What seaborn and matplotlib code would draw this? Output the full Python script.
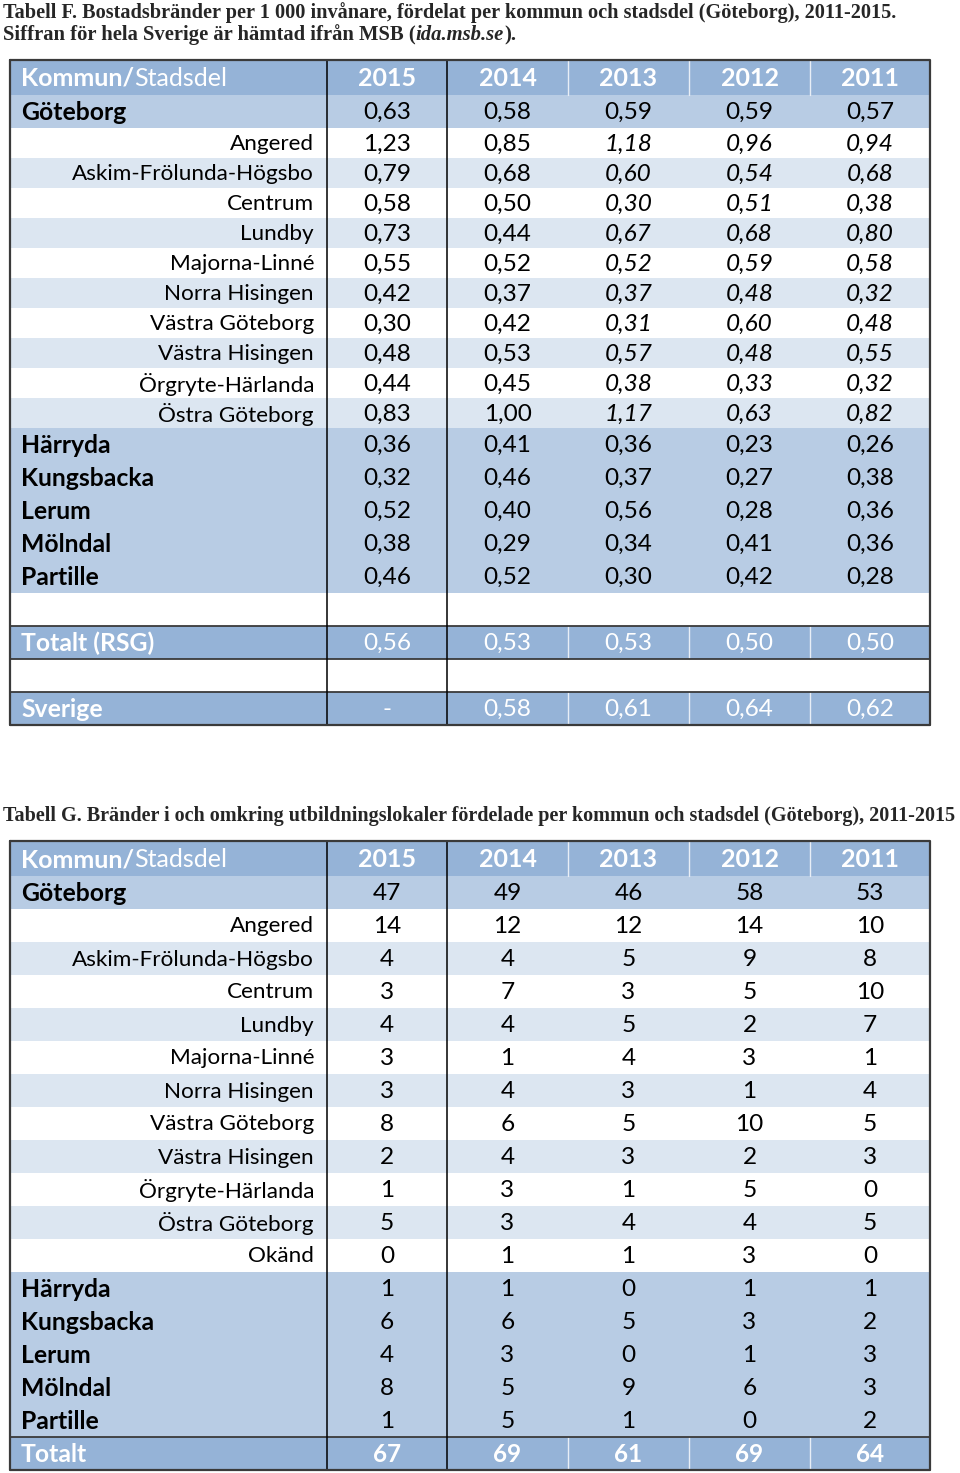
import numpy as np
import matplotlib
matplotlib.use("Agg")
import matplotlib.pyplot as plt
import seaborn as sns

# ---------------- data ----------------
years = ["2015", "2014", "2013", "2012", "2011"]

f_labels = ["Göteborg", "Angered", "Askim-Frölunda-Högsbo", "Centrum", "Lundby",
            "Majorna-Linné", "Norra Hisingen", "Västra Göteborg", "Västra Hisingen",
            "Örgryte-Härlanda", "Östra Göteborg", "Härryda", "Kungsbacka", "Lerum",
            "Mölndal", "Partille"]
f_2015 = [0.63, 1.23, 0.79, 0.58, 0.73, 0.55, 0.42, 0.30, 0.48, 0.44, 0.83, 0.36, 0.32, 0.52, 0.38, 0.46]
f_2014 = [0.58, 0.85, 0.68, 0.50, 0.44, 0.52, 0.37, 0.42, 0.53, 0.45, 1.00, 0.41, 0.46, 0.40, 0.29, 0.52]
f_2013 = [0.59, 1.18, 0.60, 0.30, 0.67, 0.52, 0.37, 0.31, 0.57, 0.38, 1.17, 0.36, 0.37, 0.56, 0.34, 0.30]
f_2012 = [0.59, 0.96, 0.54, 0.51, 0.68, 0.59, 0.48, 0.60, 0.48, 0.33, 0.63, 0.23, 0.27, 0.28, 0.41, 0.42]
f_2011 = [0.57, 0.94, 0.68, 0.38, 0.80, 0.58, 0.32, 0.48, 0.55, 0.32, 0.82, 0.26, 0.38, 0.36, 0.36, 0.28]
f_total_label = "Totalt (RSG)"
f_total = [0.56, 0.53, 0.53, 0.50, 0.50]
f_sverige_label = "Sverige"
f_sverige = [None, 0.58, 0.61, 0.64, 0.62]

g_labels = ["Göteborg", "Angered", "Askim-Frölunda-Högsbo", "Centrum", "Lundby",
            "Majorna-Linné", "Norra Hisingen", "Västra Göteborg", "Västra Hisingen",
            "Örgryte-Härlanda", "Östra Göteborg", "Okänd", "Härryda", "Kungsbacka",
            "Lerum", "Mölndal", "Partille"]
g_2015 = [47, 14, 4, 3, 4, 3, 3, 8, 2, 1, 5, 0, 1, 6, 4, 8, 1]
g_2014 = [49, 12, 4, 7, 4, 1, 4, 6, 4, 3, 3, 1, 1, 6, 3, 5, 5]
g_2013 = [46, 12, 5, 3, 5, 4, 3, 5, 3, 1, 4, 1, 0, 5, 0, 9, 1]
g_2012 = [58, 14, 9, 5, 2, 3, 1, 10, 2, 5, 4, 3, 1, 3, 1, 6, 0]
g_2011 = [53, 10, 8, 10, 7, 1, 4, 5, 3, 0, 5, 0, 1, 2, 3, 3, 2]
g_total_label = "Totalt"
g_total = [67, 69, 61, 69, 64]

f_title1 = "Tabell F. Bostadsbränder per 1 000 invånare, fördelat per kommun och stadsdel (Göteborg), 2011-2015."
f_title2 = ["Siffran för hela Sverige är hämtad ifrån MSB (", "ida.msb.se", ")."]
g_title = "Tabell G. Bränder i och omkring utbildningslokaler fördelade per kommun och stadsdel (Göteborg), 2011-2015"

kommuner = {"Göteborg", "Härryda", "Kungsbacka", "Lerum", "Mölndal", "Partille"}

# ---------------- style ----------------
sns.set_theme(style="white")
BODY = ["Lato", "DejaVu Sans"]
SERIF = ["Liberation Serif", "DejaVu Serif"]
plt.rcParams["font.family"] = BODY

HEAD = "#95B3D7"
MED = "#B8CCE4"
LIGHT = "#DCE6F1"
WHITE = "#FFFFFF"
BORDER = "#3A3A3A"

W, H = 960, 1473
fig = plt.figure(figsize=(W / 100, H / 100), dpi=100)
ax = fig.add_axes([0, 0, 1, 1])
ax.set_xlim(0, W)
ax.set_ylim(H, 0)
ax.axis("off")
fig.canvas.draw()
renderer = fig.canvas.get_renderer()

X0, X1 = 10, 930
col_edges = [10, 327, 447, 568, 689, 810, 930]
col_centers = [(col_edges[i] + col_edges[i + 1]) / 2 for i in range(1, 6)]
LABEL_L = 21
LABEL_R = 314
FS_SUB = 16.2
FS_NUM = 17.6
FS_BOLD = 17.8
FS_HEAD = 18.0


def width_of(t):
    return t.get_window_extent(renderer).width


def fit_text(x, y, s, target_w, **kw):
    t = ax.text(x, y, s, fontsize=10, **kw)
    w = width_of(t)
    t.set_fontsize(10 * target_w / w)
    return t


def seq_text(x, y, parts, fs, **kw):
    ts = []
    for s, extra in parts:
        d = dict(kw)
        d.update(extra)
        t = ax.text(x, y, s, fontsize=fs, ha="left", **d)
        x += width_of(t)
        ts.append(t)
    return ts


def seq_fit(x, y, parts, target_w, **kw):
    ts = seq_text(x, y, parts, 10, **kw)
    total = sum(width_of(t) for t in ts)
    for t in ts:
        t.remove()
    return seq_text(x, y, parts, 10 * target_w / total, **kw)


def row_bg(top, h, color):
    ax.barh(top + h / 2, X1 - X0, height=h, left=X0, color=color, edgecolor="none", zorder=1)


def light_separators(top, h):
    for x in col_edges[3:6]:
        ax.plot([x, x], [top, top + h], color="#E8EEF6", lw=1.0, zorder=2)


def draw_table(top, labels, cols, fmt, italic_cols, total_rows, sub_h, kom_h):
    y = top
    hh = 35
    row_bg(y, hh, HEAD)
    light_separators(y, hh)
    seq_text(LABEL_L, y + hh / 2 + 1, [("Kommun/", {"fontweight": "bold"}), ("Stadsdel", {})],
             FS_HEAD, color="white", va="center", zorder=3)
    for c, yr in zip(col_centers, years):
        ax.text(c, y + hh / 2 + 1, yr, ha="center", va="center", fontsize=FS_HEAD,
                color="white", fontweight="bold", zorder=3)
    y += hh
    sub_i = 0
    for i, lab in enumerate(labels):
        is_k = lab in kommuner
        h = kom_h if is_k else sub_h
        if is_k:
            color = MED
        else:
            color = WHITE if sub_i % 2 == 0 else LIGHT
            sub_i += 1
        row_bg(y, h, color)
        cy = y + h / 2 + 1
        if is_k:
            ax.text(LABEL_L, cy, lab, ha="left", va="center", fontsize=FS_BOLD,
                    fontweight="bold", color="black", zorder=3)
        else:
            ax.text(LABEL_R, cy, lab, ha="right", va="center", fontsize=FS_SUB,
                    color="black", zorder=3)
        for j, (c, vals) in enumerate(zip(col_centers, cols)):
            style = "italic" if (not is_k and j in italic_cols) else "normal"
            ax.text(c, cy, fmt(vals[i]), ha="center", va="center", fontsize=FS_NUM,
                    style=style, color="black", zorder=3)
        y += h
    for kind, lab, vals, bold_vals in total_rows:
        h = 33
        if kind == "blank":
            row_bg(y, h, WHITE)
            y += h
            continue
        row_bg(y, h, HEAD)
        light_separators(y, h)
        ax.plot([X0, X1], [y, y], color=BORDER, lw=1.3, zorder=4)
        ax.plot([X0, X1], [y + h, y + h], color=BORDER, lw=1.3, zorder=4)
        cy = y + h / 2 + 1
        ax.text(LABEL_L, cy, lab, ha="left", va="center", fontsize=FS_BOLD,
                fontweight="bold", color="white", zorder=3)
        for c, v in zip(col_centers, vals):
            ax.text(c, cy, fmt(v), ha="center", va="center", fontsize=FS_NUM,
                    fontweight="bold" if bold_vals else "normal", color="white", zorder=3)
        y += h
    bottom = y
    for x in col_edges[1:3]:
        ax.plot([x, x], [top, bottom], color="black", lw=1.1, zorder=4)
    ax.plot([X0, X1, X1, X0, X0], [top, top, bottom, bottom, top], color=BORDER, lw=1.6, zorder=5)
    return bottom


def fmt_f(v):
    return "-" if v is None else f"{v:.2f}".replace(".", ",")


def fmt_g(v):
    return str(v)


# titles
fit_text(3, 13, f_title1, 893, family=SERIF, fontweight="bold", va="center", ha="left")
seq_fit(3, 35, [(f_title2[0], {}), (f_title2[1], {"style": "italic"}), (f_title2[2], {})],
        517, family=SERIF, fontweight="bold", va="center")
fit_text(3, 816, g_title, 955, family=SERIF, fontweight="bold", va="center", ha="left")

draw_table(60, f_labels, [f_2015, f_2014, f_2013, f_2012, f_2011], fmt_f, {2, 3, 4},
           [("blank", None, None, False),
            ("row", f_total_label, f_total, False),
            ("blank", None, None, False),
            ("row", f_sverige_label, f_sverige, False)],
           sub_h=30, kom_h=33)

draw_table(841, g_labels, [g_2015, g_2014, g_2013, g_2012, g_2011], fmt_g, set(),
           [("row", g_total_label, g_total, True)],
           sub_h=33, kom_h=33)

fig.savefig("out.png", dpi=100)
